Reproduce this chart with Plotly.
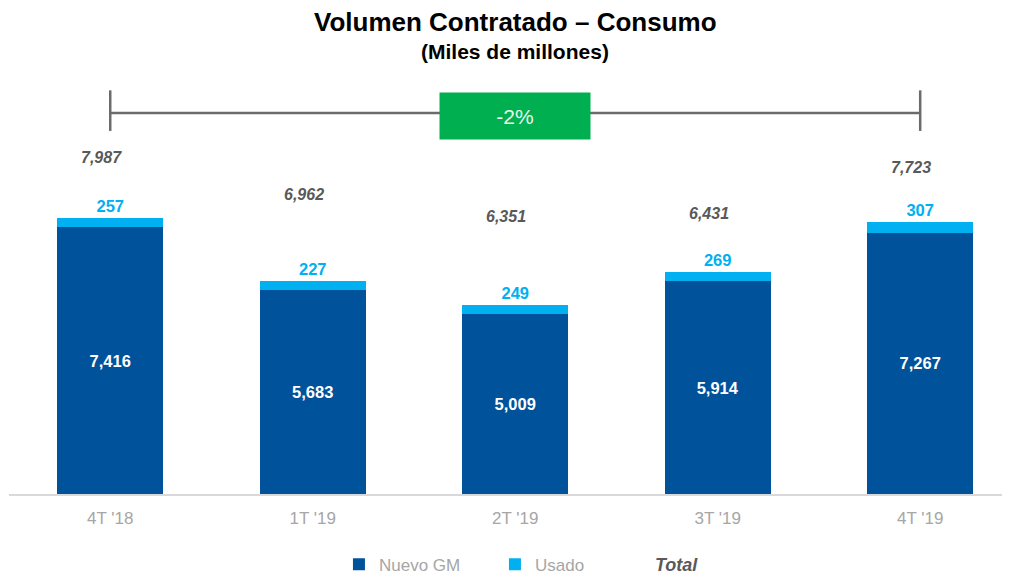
"""Volumen contratado - consumo: stacked bars Nuevo GM / Usado with totals."""

import plotly.graph_objects as go

quarters = ["4T '18", "1T '19", "2T '19", "3T '19", "4T '19"]
nuevo_gm = [7416, 5683, 5009, 5914, 7267]
usado = [257, 227, 249, 269, 307]
totals = [7987, 6962, 6351, 6431, 7723]
change_label = "-2%"

FONT = "Liberation Sans, Arial, sans-serif"
DARK_BLUE = "#00529b"
LIGHT_BLUE = "#00b0f0"
GREEN = "#00b050"
BRACKET = "#6b6b6b"

fig = go.Figure()
fig.add_trace(go.Bar(
    x=quarters, y=nuevo_gm, name="Nuevo GM",
    marker=dict(color=DARK_BLUE, line=dict(width=0)),
    texttemplate="%{y:,}", textposition="inside", insidetextanchor="middle",
    textfont=dict(color="white", size=16.5, family=FONT, weight="bold"),
))
fig.add_trace(go.Bar(
    x=quarters, y=usado, name="Usado",
    marker=dict(color=LIGHT_BLUE, line=dict(width=0)),
    texttemplate="%{y:,}", textposition="outside", cliponaxis=False,
    textfont=dict(color=LIGHT_BLUE, size=16.5, family=FONT, weight="bold"),
))

# totals, floated above each stack
for q, t in zip(quarters, totals):
    fig.add_annotation(
        x=q, y=t, yshift=49, xshift=-9, text=f"<b><i>{t:,}</i></b>", showarrow=False,
        font=dict(color="#595959", size=16, family=FONT),
    )

# bracket between first and last quarter
fig.add_shape(type="line", xref="x", yref="paper", x0=quarters[0], x1=quarters[-1],
              y0=0.92, y1=0.92, line=dict(color=BRACKET, width=2.5))
for q in (quarters[0], quarters[-1]):
    fig.add_shape(type="line", xref="x", yref="paper", x0=q, x1=q,
                  y0=0.877, y1=0.975, line=dict(color=BRACKET, width=2.5))
fig.add_annotation(
    x=quarters[2], y=0.913, yref="paper", yanchor="middle", text=change_label,
    showarrow=False, bgcolor=GREEN, width=150, height=46, borderpad=0,
    font=dict(color="#e8f7ea", size=21, family=FONT),
)

# titles
fig.add_annotation(
    x=0.5015, xref="paper", y=1.140, yref="paper", yanchor="middle",
    text="<b>Volumen Contratado – Consumo</b>", showarrow=False,
    font=dict(color="black", size=26, family=FONT),
)
fig.add_annotation(
    x=0.5015, xref="paper", y=1.068, yref="paper", yanchor="middle",
    text="<b>(Miles de millones)</b>", showarrow=False,
    font=dict(color="black", size=21, family=FONT),
)

# legend "Total" entry (text only)
fig.add_annotation(
    x=0.638, xref="paper", y=-0.171, yref="paper", xanchor="left", yanchor="middle",
    text="<b><i>Total</i></b>", showarrow=False,
    font=dict(color="#595959", size=18, family=FONT),
)

fig.update_layout(
    width=1010, height=577,
    margin=dict(l=1, r=0, t=72, b=91),
    barmode="stack", bargap=0.477,
    plot_bgcolor="white", paper_bgcolor="white",
    font=dict(family=FONT),
    showlegend=True,
    legend=dict(
        orientation="h", x=0.327, xanchor="left", y=-0.171, yanchor="middle",
        font=dict(color="#a6a6a6", size=17, family=FONT),
        itemwidth=30, entrywidth=111, traceorder="normal",
    ),
    xaxis=dict(
        range=[-0.5, 4.483], showgrid=False, showline=True, linecolor="#d9d9d9",
        linewidth=1.5, ticks="", ticklabelstandoff=8,
        tickfont=dict(color="#a6a6a6", size=17, family=FONT),
        fixedrange=True,
    ),
    yaxis=dict(range=[0, 11510], visible=False, showgrid=False, zeroline=False),
)

fig.write_html("out.html")
